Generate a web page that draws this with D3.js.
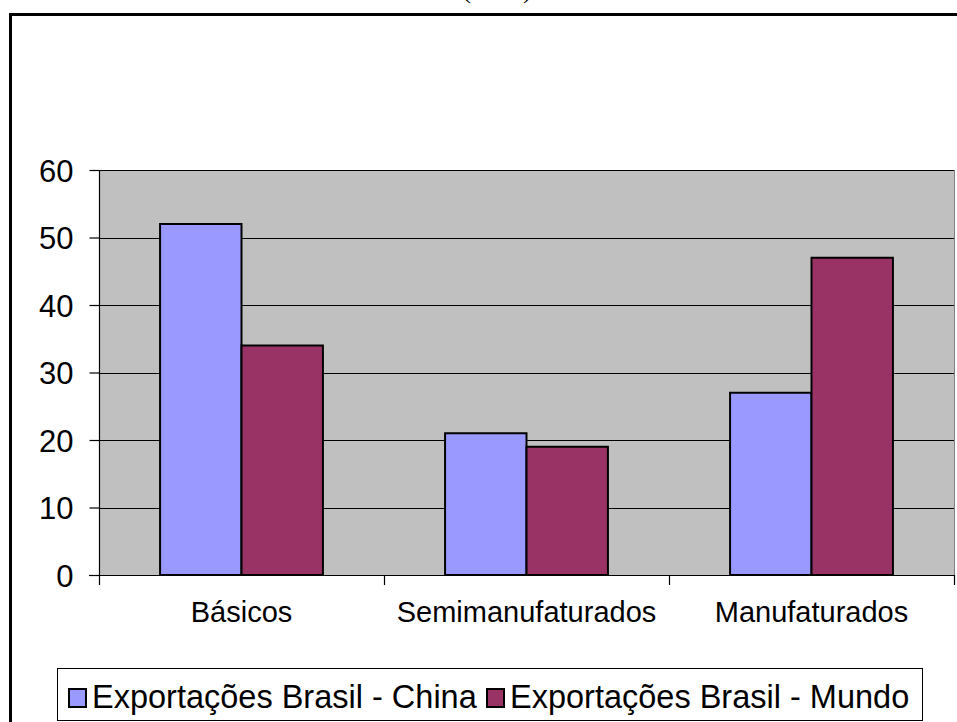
<!DOCTYPE html>
<html><head><meta charset="utf-8">
<script src="https://cdn.jsdelivr.net/npm/d3@7"></script>
<style>body{margin:0;background:#fff}svg{display:block}text{font-family:"Liberation Sans",Arial,sans-serif}</style>
</head><body>
<svg id="c" width="957" height="722"></svg>
<script>
const categories = ["Básicos", "Semimanufaturados", "Manufaturados"];
const seriesNames = ["Exportações Brasil - China", "Exportações Brasil - Mundo"];
const chinaValues = [52, 21, 27];
const mundoValues = [34, 19, 47];
const yTicks = [0, 10, 20, 30, 40, 50, 60];
const colors = ["#9999FF", "#993366"];
const titleText = "(2007)";

const svg = d3.select("#c");
const L = 99, R = 954, T = 170, B = 575;

// outer frame (cut off right/bottom)
svg.append("rect").attr("x", 10.5).attr("y", 14.5).attr("width", 1000).attr("height", 800)
  .attr("fill", "none").attr("stroke", "#000").attr("stroke-width", 3);
// partially visible title (cut off at the top, as in the reference)
svg.append("text").attr("x", 497).attr("y", -2).attr("text-anchor", "middle")
  .style("font-family", "'Liberation Serif',serif").style("font-size", "26px").text(titleText);

const x0 = d3.scaleBand().domain(categories).range([L, R]).paddingInner(0).paddingOuter(0);
const bw = x0.bandwidth() / 3.5;
const x1 = d3.scaleBand().domain(seriesNames).range([0, 2 * bw]);
const y = d3.scaleLinear().domain([0, 60]).range([B, T]);

svg.append("rect").attr("x", L).attr("y", T).attr("width", R - L).attr("height", B - T).attr("fill", "#C0C0C0");

// grid
svg.append("g").selectAll("line").data(yTicks.filter(d => d > 0)).join("line")
  .attr("x1", L).attr("x2", R).attr("y1", d => Math.round(y(d)) + 0.5).attr("y2", d => Math.round(y(d)) + 0.5)
  .attr("stroke", "#000").attr("stroke-width", 1.2);
svg.append("line").attr("x1", R + 0.5).attr("x2", R + 0.5).attr("y1", T).attr("y2", B).attr("stroke", "#808080");

// bars
const data = categories.map((c, i) => ({c, vals: [chinaValues[i], mundoValues[i]]}));
const g = svg.append("g").selectAll("g").data(data).join("g")
  .attr("transform", d => `translate(${x0(d.c) + (x0.bandwidth() - 2 * bw) / 2},0)`);
g.selectAll("rect").data(d => d.vals.map((v, k) => ({v, k}))).join("rect")
  .attr("x", d => x1(seriesNames[d.k])).attr("width", bw)
  .attr("y", d => y(d.v)).attr("height", d => B - y(d.v))
  .attr("fill", d => colors[d.k]).attr("stroke", "#000").attr("stroke-width", 2);

// y axis
const yAxis = d3.axisLeft(y).tickValues(yTicks).tickSize(10).tickPadding(16).tickSizeOuter(0);
const ya = svg.append("g").attr("transform", `translate(${L + 0.5},0)`).call(yAxis);
ya.select(".domain").remove();
ya.selectAll("line").attr("stroke", "#000").attr("stroke-width", 1.2);
ya.selectAll("text").style("font-size", "31px").attr("fill", "#000").attr("dy", "0.36em")
  .style("font-family", "'Liberation Sans',Arial,sans-serif");
svg.append("line").attr("x1", L + 0.5).attr("x2", L + 0.5).attr("y1", T).attr("y2", B + 10).attr("stroke", "#000").attr("stroke-width", 1.2);

// x axis
svg.append("line").attr("x1", L - 10).attr("x2", R).attr("y1", B + 0.5).attr("y2", B + 0.5).attr("stroke", "#000").attr("stroke-width", 1.2);
const sepX = categories.map(c => x0(c) + x0.bandwidth());
svg.append("g").selectAll("line").data(sepX).join("line")
  .attr("x1", d => Math.round(d) + 0.5).attr("x2", d => Math.round(d) + 0.5).attr("y1", B).attr("y2", B + 10)
  .attr("stroke", "#000").attr("stroke-width", 1.2);
svg.append("g").selectAll("text").data(categories).join("text")
  .attr("x", d => x0(d) + x0.bandwidth() / 2).attr("y", 622).attr("text-anchor", "middle")
  .style("font-size", "29px").attr("fill", "#000").text(d => d);

// legend
const lg = svg.append("g");
lg.append("rect").attr("x", 57.5).attr("y", 668.5).attr("width", 865).attr("height", 52)
  .attr("fill", "#fff").attr("stroke", "#000").attr("stroke-width", 1);
const legX = [69, 487];
seriesNames.forEach((s, k) => {
  lg.append("rect").attr("x", legX[k]).attr("y", 689).attr("width", 17).attr("height", 18)
    .attr("fill", colors[k]).attr("stroke", "#000").attr("stroke-width", 2);
  lg.append("text").attr("x", legX[k] + 23).attr("y", 708).style("font-size", "32.5px").attr("fill", "#000").text(s);
});
</script>
</body></html>
